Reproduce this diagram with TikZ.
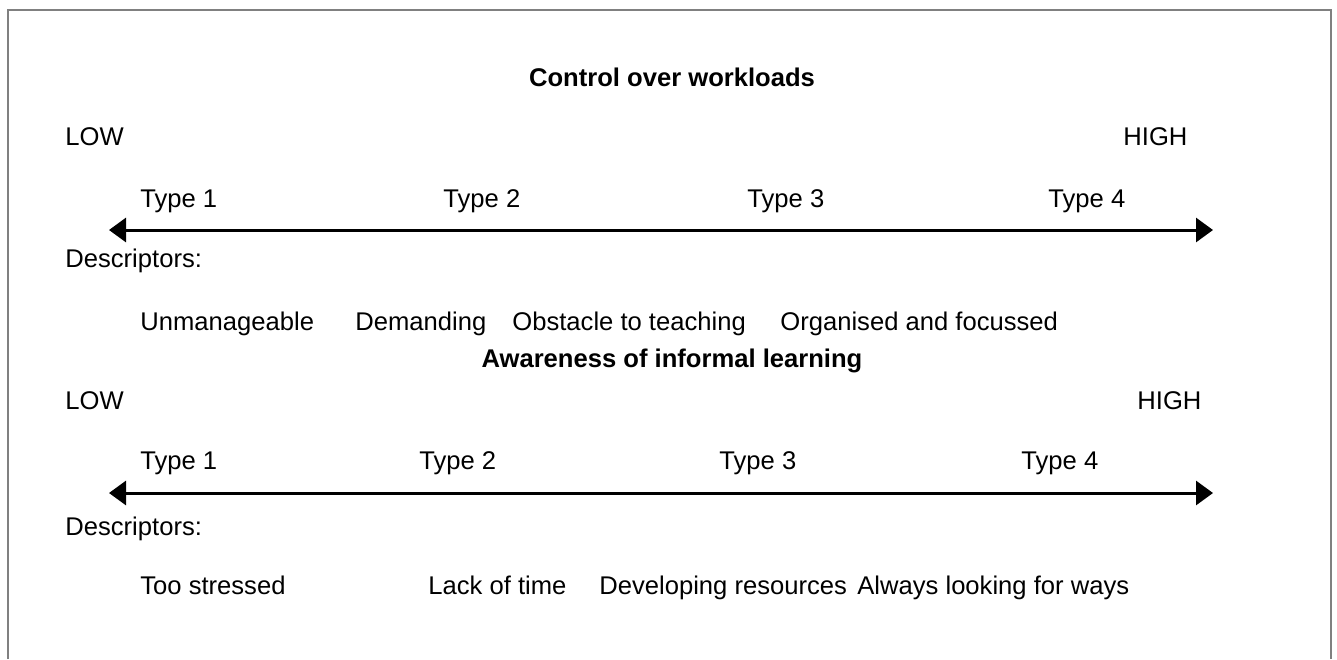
\documentclass[tikz,border=0pt]{standalone}
\usepackage{fontspec}
\setmainfont{Liberation Sans}
\usetikzlibrary{arrows.meta}

\begin{document}
\begin{tikzpicture}[x=0.5pt, y=-0.5pt,
    every node/.style={inner sep=0, font=\fontsize{12.8}{15}\selectfont},
    lbl/.style={anchor=base west},
    heading/.style={anchor=base, font=\fontsize{12.8}{15}\selectfont\bfseries},
    scalearrow/.style={line width=1.5pt,
        {Triangle[length=8.5pt,width=12pt]}-{Triangle[length=8.5pt,width=12pt]}}]
    \useasboundingbox (0,0) rectangle (1337,659);

    % Draw frame (open at the bottom)
    \draw[gray, line width=1pt] (8,659) -- (8,10) -- (1331,10) -- (1331,659);

    % First scale: workloads
    \node[heading] (head1) at (672,86) {Control over workloads};
    \node[lbl] (low1) at (65,145) {LOW};
    \node[lbl] (high1) at (1123,145) {HIGH};
    \foreach \x/\n in {140/1, 443/2, 747/3, 1048/4} {
        \node[lbl] (type1\n) at (\x,207) {Type \n};
    }
    \coordinate (west1) at (109,230);
    \coordinate (east1) at (1213,230);
    \draw[scalearrow] (west1) -- (east1);
    \node[lbl] (desc1) at (65,267) {Descriptors:};
    \node[lbl] (d11) at (140,330) {Unmanageable};
    \node[lbl] (d12) at (355,330) {Demanding};
    \node[lbl] (d13) at (512,330) {Obstacle to teaching};
    \node[lbl] (d14) at (780,330) {Organised and focussed};

    % Second scale: informal learning
    \node[heading] (head2) at (672,367) {Awareness of informal learning};
    \node[lbl] (low2) at (65,409) {LOW};
    \node[lbl] (high2) at (1137,409) {HIGH};
    \foreach \x/\n in {140/1, 419/2, 719/3, 1021/4} {
        \node[lbl] (type2\n) at (\x,469) {Type \n};
    }
    \coordinate (west2) at (109,493);
    \coordinate (east2) at (1213,493);
    \draw[scalearrow] (west2) -- (east2);
    \node[lbl] (desc2) at (65,535) {Descriptors:};
    \node[lbl] (d21) at (140,594) {Too stressed};
    \node[lbl] (d22) at (428,594) {Lack of time};
    \node[lbl] (d23) at (599,594) {Developing resources};
    \node[lbl] (d24) at (857,594) {Always looking for ways};
\end{tikzpicture}
\end{document}
